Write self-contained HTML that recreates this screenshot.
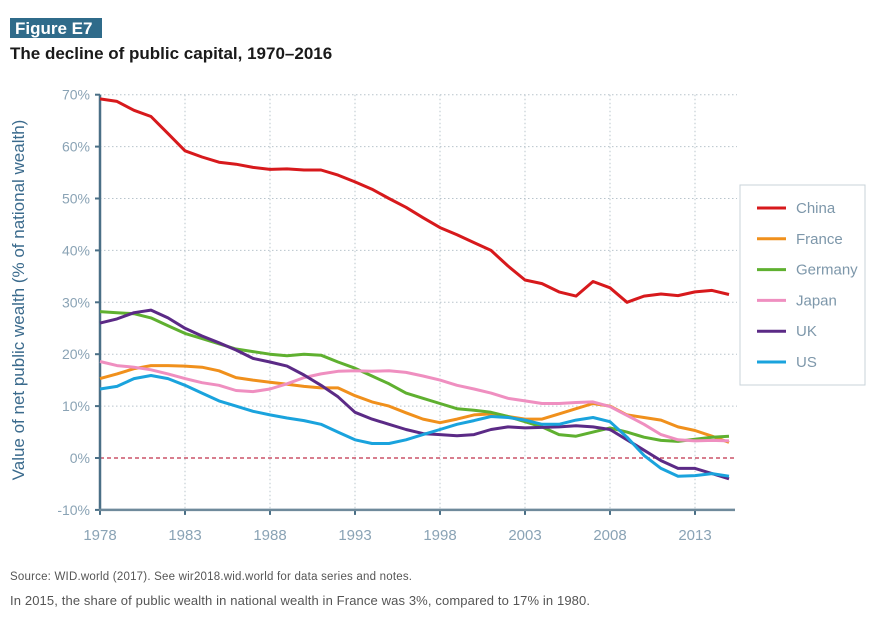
<!DOCTYPE html>
<html><head><meta charset="utf-8"><style>
body{margin:0;background:#fff;font-family:"Liberation Sans",sans-serif;}
#wrap{position:relative;width:891px;height:639px;overflow:hidden;}
</style></head><body>
<div id="wrap">
<svg id="chart" width="891" height="639" xmlns="http://www.w3.org/2000/svg">
<rect x="10" y="18" width="92" height="20" fill="#2f6b8a"/>
<text x="15" y="34" font-size="17" font-weight="bold" fill="#fff">Figure E7</text>
<text x="10" y="59" font-size="17" font-weight="bold" fill="#1a1a1a">The decline of public capital, 1970–2016</text>
<g id="grid"></g><g id="axes"></g><g id="series"></g>
<text transform="translate(24,300) rotate(-90)" text-anchor="middle" font-size="17" fill="#3a6a8c">Value of net public wealth (% of national wealth)</text>
<rect x="740" y="185" width="125" height="200" fill="#fff" stroke="#c8d3da"/>
<g id="legend"></g>
<text x="10" y="580" font-size="11.5" fill="#555" textLength="402">Source: WID.world (2017). See wir2018.wid.world for data series and notes.</text>
<text x="10" y="605" font-size="13" fill="#555" textLength="580">In 2015, the share of public wealth in national wealth in France was 3%, compared to 17% in 1980.</text>
</svg>
</div>
<script>
const years=[];for(let y=1978;y<=2015;y++)years.push(y);
const xTicks=[1978,1983,1988,1993,1998,2003,2008,2013];
const yTicks=[-10,0,10,20,30,40,50,60,70];
const seriesNames=["China","France","Germany","Japan","UK","US"];
const china=[69.2,68.7,67,65.8,62.5,59.2,58,57,56.6,56,55.6,55.7,55.5,55.5,54.5,53.2,51.8,50,48.3,46.3,44.4,43,41.5,40,37,34.3,33.6,32,31.2,34,32.8,30,31.2,31.6,31.3,32,32.3,31.5];
const france=[15.3,16.2,17.2,17.8,17.8,17.7,17.5,16.8,15.5,15,14.6,14.2,13.8,13.5,13.5,12,10.8,10,8.7,7.5,6.8,7.5,8.3,8.5,8,7.5,7.5,8.5,9.5,10.5,10,8.3,7.8,7.3,6,5.3,4.2,3];
const germany=[28.2,28,27.8,27,25.5,24,23,22,21,20.5,20,19.7,20,19.8,18.5,17.3,15.8,14.3,12.5,11.5,10.5,9.5,9.2,8.8,8,7,6,4.5,4.2,5,5.8,5,4,3.4,3.2,3.6,4,4.2];
const japan=[18.6,17.8,17.5,17,16.2,15.3,14.5,14,13,12.8,13.3,14.3,15.5,16.2,16.7,16.8,16.7,16.8,16.5,15.8,15,14,13.3,12.5,11.5,11,10.5,10.5,10.7,10.8,9.9,8.2,6.5,4.5,3.5,3.3,3.4,3.3];
const uk=[26,26.8,28,28.5,27,25,23.5,22.2,20.8,19.2,18.5,17.7,16,14,11.8,8.8,7.5,6.5,5.5,4.7,4.5,4.3,4.5,5.5,6,5.8,5.9,6,6.2,6,5.5,3.5,1.5,-0.5,-2,-2,-3,-4];
const us=[13.3,13.8,15.3,15.9,15.3,14,12.5,11,10,9,8.3,7.7,7.2,6.5,5,3.5,2.8,2.8,3.5,4.5,5.5,6.5,7.2,8,7.8,7.3,6.5,6.5,7.3,7.8,7,4,0.5,-2,-3.5,-3.4,-3,-3.5];
const colors=["#d7191c","#f0901c","#5fb030","#ef8fc0","#5b2a86","#1aa3dd"];
const allSeries=[china,france,germany,japan,uk,us];
const NS="http://www.w3.org/2000/svg";
const X=y=>100+(y-1978)*17;
const Y=v=>458-v*5.19;
function mk(tag,attrs,parent){const e=document.createElementNS(NS,tag);for(const k in attrs)e.setAttribute(k,attrs[k]);parent.appendChild(e);return e;}
const grid=document.getElementById('grid'),axes=document.getElementById('axes'),ser=document.getElementById('series'),leg=document.getElementById('legend');
yTicks.forEach(v=>{
 if(v>-10&&v!==0){const l=mk('line',{x1:100,x2:737,y1:Y(v),y2:Y(v),stroke:'#b8c4cc','stroke-width':1,'stroke-dasharray':'1.5,2.5'},grid);
 
 }
 const t=mk('line',{x1:95,x2:100,y1:Y(v),y2:Y(v),stroke:'#4a6f86','stroke-width':2},axes);
 
 
 const tx=mk('text',{x:90,y:Y(v)+5,'text-anchor':'end','font-size':14,fill:'#8aa3b5'},axes);tx.textContent=v+'%';
 
 
});
xTicks.forEach(yr=>{
 if(yr>1978){const l=mk('line',{x1:X(yr),x2:X(yr),y1:Y(70),y2:Y(-10),stroke:'#b8c4cc','stroke-width':1,'stroke-dasharray':'1.5,2.5'},grid);
 
 }
 const t=mk('line',{x1:X(yr),x2:X(yr),y1:Y(-10),y2:Y(-10)+5,stroke:'#4a6f86','stroke-width':2},axes);
 
 
 const tx=mk('text',{x:X(yr),y:540,'text-anchor':'middle','font-size':15,fill:'#8aa3b5'},axes);tx.textContent=yr;
 
 
});
const zl=mk('line',{x1:100,x2:735,y1:Y(0),y2:Y(0),stroke:'#c0304a','stroke-width':1.2,'stroke-dasharray':'4,3'},axes);


const ya=mk('line',{x1:100,x2:100,y1:Y(70),y2:Y(-10),stroke:'#4a6f86','stroke-width':2.5},axes);


const xa=mk('line',{x1:99,x2:735,y1:Y(-10),y2:Y(-10),stroke:'#6f8a9b','stroke-width':2.5},axes);


allSeries.forEach((s,i)=>{
 const d=s.map((v,j)=>(j?'L':'M')+X(years[j]).toFixed(1)+','+Y(v).toFixed(1)).join(' ');
 const p=mk('path',{d:d,fill:'none',stroke:colors[i],'stroke-width':3,'stroke-linejoin':'round'},ser);
 
 
 const ly=208+i*30.8;
 const ll=mk('line',{x1:757,x2:786,y1:ly,y2:ly,stroke:colors[i],'stroke-width':3},leg);
 
 
 const lt=mk('text',{x:796,y:ly+5,'font-size':15,fill:'#7d97aa'},leg);lt.textContent=seriesNames[i];
 
 
});
</script>
</body></html>
